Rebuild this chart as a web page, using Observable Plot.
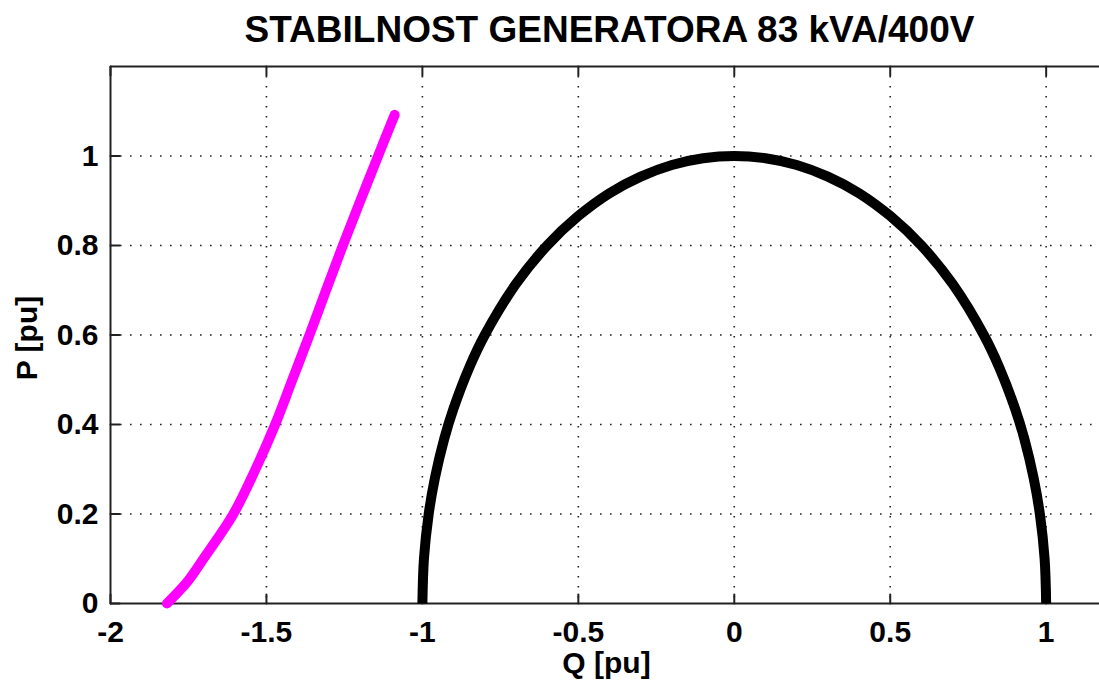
<!DOCTYPE html>
<html>
<head>
<meta charset="utf-8">
<script src="https://cdn.jsdelivr.net/npm/d3@7"></script>
<script src="https://cdn.jsdelivr.net/npm/@observablehq/plot@0.6"></script>
<style>
  html, body { margin: 0; padding: 0; background: #fff; overflow: hidden; }
  #chart { position: relative; width: 1099px; height: 684px; }
</style>
</head>
<body>
<div id="chart"></div>
<script>
// ---- data ----
const title = "STABILNOST GENERATORA 83 kVA/400V";
const xLabel = "Q [pu]";
const yLabel = "P [pu]";
const xTicks = [-2, -1.5, -1, -0.5, 0, 0.5, 1];
const yTicks = [0, 0.2, 0.4, 0.6, 0.8, 1];

// black curve: generator capability limit
const limitQ = [-1, -0.995, -0.98, -0.96, -0.93, -0.9, -0.85, -0.8, -0.7, -0.6, -0.5, -0.4, -0.3, -0.2, -0.1, 0,
                0.1, 0.2, 0.3, 0.4, 0.5, 0.6, 0.7, 0.8, 0.85, 0.9, 0.93, 0.96, 0.98, 0.995, 1];
const limitP = [0, 0.1, 0.199, 0.28, 0.368, 0.436, 0.527, 0.6, 0.714, 0.8, 0.866, 0.917, 0.954, 0.98, 0.995, 1,
                0.995, 0.98, 0.954, 0.917, 0.866, 0.8, 0.714, 0.6, 0.527, 0.436, 0.368, 0.28, 0.199, 0.1, 0];

// magenta curve: stability limit
const stabQ = [-1.819, -1.752, -1.702, -1.606, -1.535, -1.472, -1.417, -1.362, -1.309, -1.255, -1.199, -1.142, -1.089];
const stabP = [0, 0.05, 0.1, 0.2, 0.3, 0.4, 0.5, 0.6, 0.7, 0.8, 0.9, 1.0, 1.092];

const limit = limitQ.map((q, i) => ({q, p: limitP[i]}));
const stab = stabQ.map((q, i) => ({q, p: stabP[i]}));

const tickShape = {draw(context, l) { context.moveTo(0, 0); context.lineTo(0, -l); }};
const font = "Liberation Sans, Arial, Helvetica, sans-serif";

const chart = Plot.plot({
  width: 1099,
  height: 684,
  marginLeft: 110,
  marginRight: 0,
  marginTop: 66,
  marginBottom: 81,
  style: {fontFamily: font, background: "#fff", overflow: "visible"},
  x: {domain: [-2, 1.171], axis: null},
  y: {domain: [0, 1.2], axis: null},
  marks: [
    // dotted grid
    Plot.ruleX(xTicks.slice(1), {x: d => d, stroke: "#222", strokeWidth: 1.6, strokeDasharray: "1.6,8.4"}),
    Plot.ruleY(yTicks.slice(1), {y: d => d, stroke: "#222", strokeWidth: 1.6, strokeDasharray: "1.6,8.4"}),
    // frame
    Plot.ruleY([0, 1.2], {y: d => d, stroke: "#222", strokeWidth: 2}),
    Plot.ruleX([-2], {x: d => d, stroke: "#222", strokeWidth: 2}),
    // inward ticks
    Plot.vector(xTicks, {x: d => d, y: 0, length: 9, rotate: 0, anchor: "start", shape: tickShape, stroke: "#222", strokeWidth: 2}),
    Plot.vector(xTicks, {x: d => d, y: 1.2, length: 9, rotate: 180, anchor: "start", shape: tickShape, stroke: "#222", strokeWidth: 2}),
    Plot.vector(yTicks, {x: -2, y: d => d, length: 9, rotate: 90, anchor: "start", shape: tickShape, stroke: "#222", strokeWidth: 2}),
    // curves
    Plot.line(limit, {x: "q", y: "p", curve: "catmull-rom", stroke: "#000", strokeWidth: 10, strokeLinecap: "butt"}),
    Plot.line(stab, {x: "q", y: "p", curve: "catmull-rom", stroke: "#ff00ff", strokeWidth: 10, strokeLinecap: "round"}),
    // axes labels
    Plot.axisX(xTicks, {tickSize: 0, tickPadding: 17, fontSize: 30, fontWeight: "bold", fill: "#000",
                        tickFormat: d => String(d), label: null}),
    Plot.axisY(yTicks, {tickSize: 0, tickPadding: 12, fontSize: 30, fontWeight: "bold", fill: "#000",
                        tickFormat: d => String(d), label: null}),
    // titles
    Plot.text([title], {frameAnchor: "top", dx: 4.5, dy: -25, lineAnchor: "bottom", text: d => d,
                        fontSize: 37, fontWeight: "bold", fill: "#000"}),
    Plot.text([xLabel], {frameAnchor: "bottom", dx: 1.5, dy: 69, lineAnchor: "bottom", text: d => d,
                         fontSize: 30, fontWeight: "bold", fill: "#000"}),
    Plot.text([yLabel], {frameAnchor: "left", textAnchor: "middle", dx: -74, dy: 3, rotate: -90, lineAnchor: "bottom", text: d => d,
                         fontSize: 30, fontWeight: "bold", fill: "#000"})
  ]
});
document.getElementById("chart").appendChild(chart);
</script>
</body>
</html>
